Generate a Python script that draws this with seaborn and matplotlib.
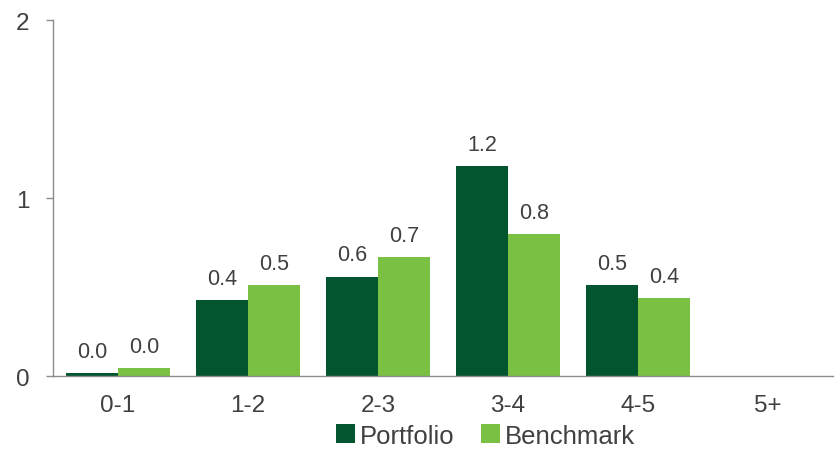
import numpy as np
import pandas as pd
import matplotlib
matplotlib.use("Agg")
import matplotlib.pyplot as plt
import seaborn as sns

# data
buckets = ["0-1", "1-2", "2-3", "3-4", "4-5", "5+"]
portfolio = [0.015, 0.43, 0.56, 1.18, 0.51, np.nan]
benchmark = [0.045, 0.51, 0.67, 0.80, 0.44, np.nan]
series = ["Portfolio", "Benchmark"]
colors = ["#03552F", "#7AC143"]

df = pd.DataFrame({
    "bucket": buckets * 2,
    "value": portfolio + benchmark,
    "series": [series[0]] * len(buckets) + [series[1]] * len(buckets),
})

sns.set_style("white")
plt.rcParams["font.family"] = ["Liberation Sans", "DejaVu Sans"]
text_col = "#404040"
axis_col = "#8C8C8C"

fig = plt.figure(figsize=(8.37, 4.56), dpi=100)
ax = fig.add_axes([0.0633, 0.173, 0.932, 0.78])

sns.barplot(data=df.dropna(), x="bucket", y="value", hue="series",
            order=buckets, hue_order=series, palette=colors,
            width=0.8, saturation=1, linewidth=0, ax=ax, legend=True)

for cont in ax.containers:
    ax.bar_label(cont, labels=[f"{v:.1f}" for v in cont.datavalues],
                 padding=8, fontsize=15.5, color=text_col)

ax.set_ylim(0, 2)
ax.set_yticks([0, 1, 2])
ax.set_xlim(-0.5, len(buckets) - 0.5)
ax.set_xlabel("")
ax.set_ylabel("")

# tick marks sit between the categories
ax.set_xticks(np.arange(len(buckets)))
ax.set_xticklabels(buckets)
ax.set_xticks(np.arange(len(buckets)) - 0.5, minor=True)
ax.tick_params(axis="x", which="major", length=0, pad=13, labelsize=17.5, labelcolor=text_col)
ax.tick_params(axis="x", which="minor", length=5, width=1, color=axis_col, direction="out")
ax.tick_params(axis="y", length=5, width=1, color=axis_col, direction="out",
               pad=12, labelsize=17.5, labelcolor=text_col, left=True)

for side in ["top", "right"]:
    ax.spines[side].set_visible(False)
for side in ["left", "bottom"]:
    ax.spines[side].set_color(axis_col)
    ax.spines[side].set_linewidth(1)

handles, labels = ax.get_legend_handles_labels()
ax.legend_.remove()
fig.legend(handles, labels, loc="lower center", bbox_to_anchor=(0.58, -0.035),
           ncol=2, frameon=False, fontsize=18.5, labelcolor=text_col,
           handlelength=0.75, handleheight=0.75, handletextpad=0.2, columnspacing=1.0)

fig.savefig("out.png", dpi=100)
